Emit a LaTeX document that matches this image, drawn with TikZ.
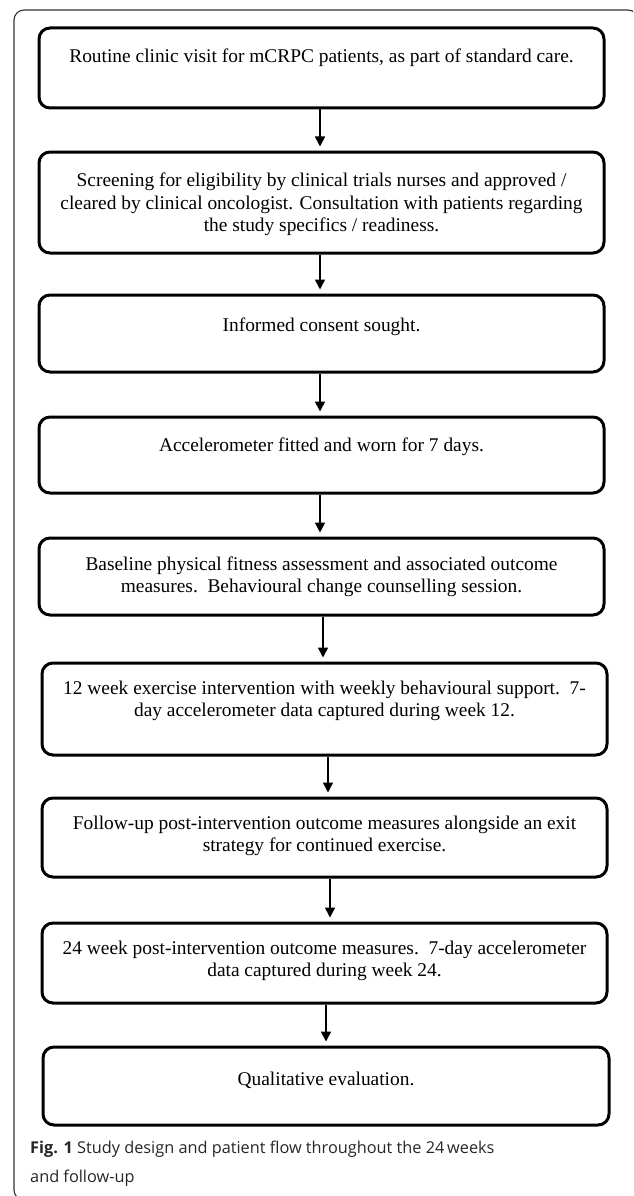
\documentclass[tikz,border=0pt]{standalone}
\usepackage{fontspec}
\setmainfont{Liberation Serif}
\newfontfamily\boxfont{Liberation Serif}
\newfontfamily\capfont{Open Sans}
\usetikzlibrary{arrows.meta}
\begin{document}
\begin{tikzpicture}[x=1pt,y=-1pt,
  box/.style={draw=black, line width=3pt, rounded corners=11pt, inner sep=0pt, minimum width=565pt},
  txt/.style={font=\boxfont\fontsize{19.4}{22.5}\selectfont, align=center, inner sep=0pt},
  arr/.style={line width=1.6pt, -{Triangle[width=10pt,length=10pt]}, shorten >=4pt},
  captext/.style={font=\capfont\fontsize{16.3}{29}\selectfont, align=left, inner sep=0pt, text=black!85}]
\useasboundingbox (0,0) rectangle (633,1196);
\clip (0,0) rectangle (633,1196);
\draw[line width=1.1pt, black!80, rounded corners=10pt] (14,10) rectangle (638,1200);

% boxes
\node[box, minimum height=80pt] (b1) at (321.5,68) {};
\node[box, minimum height=101pt] (b2) at (321.5,202.5) {};
\node[box, minimum height=77pt] (b3) at (321.5,333.5) {};
\node[box, minimum height=76pt] (b4) at (321.5,455) {};
\node[box, minimum height=77pt] (b5) at (321.5,576.5) {};
\node[box, minimum height=92pt] (b6) at (324.5,709) {};
\node[box, minimum height=79pt] (b7) at (324.5,837.5) {};
\node[box, minimum height=80pt] (b8) at (324.5,963) {};
\node[box, minimum height=78pt, minimum width=566pt] (b9) at (326,1086) {};

% texts
\node[txt] (t1) at (321.5,58) {Routine clinic visit for mCRPC patients, as part of standard care.};
\node[txt] (t2) at (321.5,204.5) {Screening for eligibility by clinical trials nurses and approved /\\cleared by clinical oncologist. Consultation with patients regarding\\the study specifics / readiness.};
\node[txt] (t3) at (321.5,327) {Informed consent sought.};
\node[txt] (t4) at (321.5,447) {Accelerometer fitted and worn for 7 days.};
\node[txt] (t5) at (321.5,577) {Baseline physical fitness assessment and associated outcome\\measures.\ \ Behavioural change counselling session.};
\node[txt] (t6) at (324.5,701) {12 week exercise intervention with weekly behavioural support.\ \ 7-\\day accelerometer data captured during week 12.};
\node[txt] (t7) at (324.5,836) {Follow-up post-intervention outcome measures alongside an exit\\strategy for continued exercise.};
\node[txt] (t8) at (324.5,961) {24 week post-intervention outcome measures.\ \ 7-day accelerometer\\data captured during week 24.};
\node[txt] (t9) at (326,1080) {Qualitative evaluation.};

% arrows
\draw[arr] ([xshift=-1.5pt]b1.south) -- ([xshift=-1.5pt]b2.north);
\draw[arr] ([xshift=-1.5pt]b2.south) -- ([xshift=-1.5pt]b3.north);
\draw[arr] ([xshift=-1.5pt]b3.south) -- ([xshift=-1.5pt]b4.north);
\draw[arr] ([xshift=-1.5pt]b4.south) -- ([xshift=-1.5pt]b5.north);
\draw[arr] ([xshift=1.5pt]b5.south) -- ([xshift=-1.5pt]b6.north);
\draw[arr] ([xshift=3.5pt]b6.south) -- ([xshift=3.5pt]b7.north);
\draw[arr] ([xshift=5.5pt]b7.south) -- ([xshift=5.5pt]b8.north);
\draw[arr] ([xshift=1.5pt]b8.south) -- (b9.north);

% caption
\node[captext, anchor=north west] (capt) at (30,1141) {\textbf{Fig. 1} Study design and patient flow throughout the 24\,weeks\\and follow-up};
\end{tikzpicture}
\end{document}
